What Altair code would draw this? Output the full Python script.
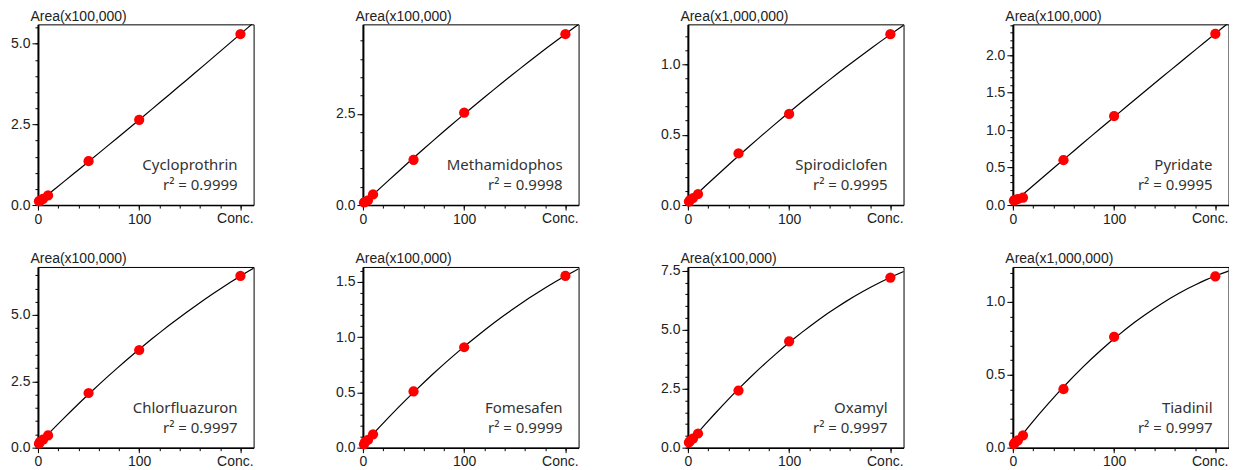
import altair as alt
import pandas as pd

# ---- data -------------------------------------------------------------
conc = [1, 2, 5, 10, 50, 100, 200]

names = ["Cycloprothrin", "Methamidophos", "Spirodiclofen", "Pyridate",
         "Chlorfluazuron", "Fomesafen", "Oxamyl", "Tiadinil"]
r2_values = ["0.9999", "0.9998", "0.9995", "0.9995",
             "0.9997", "0.9999", "0.9997", "0.9997"]
area_units = ["Area(x100,000)", "Area(x100,000)", "Area(x1,000,000)", "Area(x100,000)",
              "Area(x100,000)", "Area(x100,000)", "Area(x100,000)", "Area(x1,000,000)"]
x_axis_label = "Conc."

area_cycloprothrin = [0.12, 0.14, 0.19, 0.30, 1.36, 2.64, 5.30]
area_methamidophos = [0.07, 0.09, 0.13, 0.29, 1.24, 2.53, 4.68]
area_spirodiclofen = [0.025, 0.035, 0.05, 0.078, 0.367, 0.648, 1.215]
area_pyridate = [0.06, 0.07, 0.08, 0.10, 0.598, 1.187, 2.284]
area_chlorfluazuron = [0.15, 0.22, 0.30, 0.46, 2.06, 3.68, 6.47]
area_fomesafen = [0.03, 0.05, 0.07, 0.121, 0.509, 0.909, 1.555]
area_oxamyl = [0.22, 0.28, 0.38, 0.60, 2.42, 4.51, 7.21]
area_tiadinil = [0.025, 0.035, 0.05, 0.085, 0.401, 0.760, 1.175]

areas = [area_cycloprothrin, area_methamidophos, area_spirodiclofen, area_pyridate,
         area_chlorfluazuron, area_fomesafen, area_oxamyl, area_tiadinil]

# y-axis ranges, minor tick step, labelled step
y_max = [5.6, 4.95, 1.285, 2.41, 6.81, 1.636, 7.66, 1.239]
y_minor = [0.5, 0.5, 0.1, 0.1, 0.5, 0.1, 0.5, 0.1]
y_major = [2.5, 2.5, 0.5, 0.5, 2.5, 0.5, 2.5, 0.5]

x_minor_ticks = [0, 20, 40, 60, 80, 100, 120, 140, 160, 180, 200]
x_major_ticks = [0, 100, 200]
X_MAX = 213

W, H = 216, 181
LABEL_FONT = "Liberation Sans"
NOTE_FONT = "Noto Sans"


def steps(top, step):
    out = []
    k = 0
    while k * step <= top + 1e-9:
        out.append(round(k * step, 3))
        k += 1
    return out


def panel(i):
    df = pd.DataFrame({"conc": conc, "area": areas[i]})
    y_minor_vals = steps(y_max[i], y_minor[i])
    y_major_vals = steps(y_max[i], y_major[i])
    xs = alt.Scale(domain=[0, X_MAX], nice=False, zero=False)
    ys = alt.Scale(domain=[0, y_max[i]], nice=False, zero=True)

    common = dict(grid=False, tickColor="black", labelFlush=False, labelOverlap=False,
                  labelFont=LABEL_FONT, labelFontSize=14, labelColor="#222", labelPadding=2)

    # minor-tick axes (no labels)
    x_minor = alt.X("conc:Q", scale=xs, axis=alt.Axis(
        values=x_minor_ticks, title=None, labels=False, tickSize=3, domain=False, orient="bottom", **common))
    y_minor_ax = alt.Y("area:Q", scale=ys, axis=alt.Axis(
        values=y_minor_vals, title=None, labels=False, tickSize=3, domain=False, orient="left", **common))

    # major-tick axes (with labels)
    x_major = alt.X("conc:Q", scale=xs, axis=alt.Axis(
        values=x_major_ticks, title=None, tickSize=5, orient="bottom",
        labelExpr="datum.value == 200 ? '' : datum.label",
        domainColor="black", domainWidth=1.5, **common))
    y_major_ax = alt.Y("area:Q", scale=ys, axis=alt.Axis(
        values=y_major_vals, format=".1f", tickSize=6, orient="left",
        domainColor="black", domainWidth=2,
        title=area_units[i], titleAngle=0, titleAlign="left", titleBaseline="alphabetic",
        titleX=-8, titleY=-4, titleFont=LABEL_FONT, titleFontSize=14,
        titleFontWeight="normal", titleColor="#222", **common))

    base = alt.Chart(df)
    fit = base.transform_regression(
        "conc", "area", method="poly", order=2, extent=[0, X_MAX + 3]
    ).mark_line(color="black", strokeWidth=1.2, clip=True).encode(x=x_minor, y=y_minor_ax)
    pts = base.mark_circle(color="#ff0000", size=105, opacity=1).encode(x=x_major, y=y_major_ax)

    note_df = pd.DataFrame({"name": [names[i]], "r2": ["r\u00b2 = " + r2_values[i]],
                            "xlab": [x_axis_label]})
    name_txt = alt.Chart(note_df).mark_text(
        align="right", baseline="alphabetic", font=NOTE_FONT, fontSize=15, color="#333"
    ).encode(x=alt.value(W - 16), y=alt.value(H - 35), text="name:N")
    r2_txt = alt.Chart(note_df).mark_text(
        align="right", baseline="alphabetic", font=NOTE_FONT, fontSize=15, color="#333"
    ).encode(x=alt.value(W - 16), y=alt.value(H - 15), text="r2:N")
    conc_txt = alt.Chart(note_df).mark_text(
        align="right", baseline="top", font=LABEL_FONT, fontSize=14, color="#222"
    ).encode(x=alt.value(W), y=alt.value(H + 7), text="xlab:N")

    return alt.layer(fit, pts, name_txt, r2_txt, conc_txt).resolve_axis(
        x="independent", y="independent"
    ).properties(width=W, height=H)


row1 = alt.hconcat(*[panel(i) for i in range(4)], spacing=80.5)
row2 = alt.hconcat(*[panel(i) for i in range(4, 8)], spacing=80.5)

chart = alt.vconcat(row1, row2, spacing=24).properties(
    padding={"left": 2, "top": 0, "right": 0, "bottom": 0}
).configure_view(stroke="black", strokeWidth=1)

chart.save("out.html", embed_options={"renderer": "svg", "actions": False})
